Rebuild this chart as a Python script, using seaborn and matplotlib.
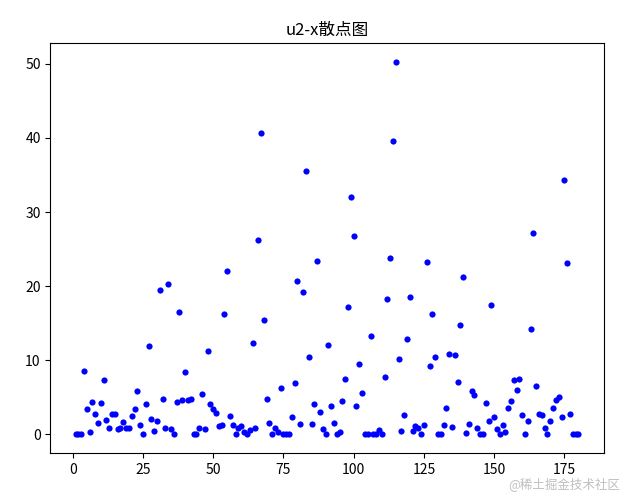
import numpy as np
import pandas as pd
import matplotlib
matplotlib.use('Agg')
import matplotlib.pyplot as plt
import seaborn as sns

plt.rcParams['font.family'] = ['Noto Sans CJK SC', 'DejaVu Sans']
plt.rcParams['axes.unicode_minus'] = False

# u2 values, sample index 1..180
u2_1_40 = [0.0, 0.1, 0.0, 8.6, 3.4, 0.3, 4.4, 2.7, 1.5, 4.3,
           7.4, 2.0, 0.8, 2.7, 2.7, 0.7, 0.8, 1.7, 0.8, 0.8,
           2.5, 3.4, 5.9, 1.3, 0.0, 4.1, 11.9, 2.1, 0.4, 1.8,
           19.5, 4.8, 0.9, 20.3, 0.7, 0.0, 4.4, 16.5, 4.6, 8.4]
u2_41_80 = [4.7, 4.8, 0.1, 0.0, 0.9, 5.5, 0.7, 11.3, 4.1, 3.4,
            2.9, 1.1, 1.3, 16.3, 22.0, 2.5, 1.3, 0.0, 0.9, 1.1,
            0.3, 0.0, 0.6, 12.3, 0.8, 26.2, 40.6, 15.5, 4.8, 1.5,
            0.0, 0.9, 0.3, 6.3, 0.1, 0.1, 0.1, 2.3, 6.9, 20.7]
u2_81_120 = [1.4, 19.2, 35.5, 10.4, 1.4, 4.1, 23.4, 3.0, 0.7, 0.0,
             12.0, 3.8, 1.5, 0.0, 0.3, 4.5, 7.5, 17.2, 32.0, 26.8,
             3.9, 9.5, 5.6, 0.1, 0.0, 13.3, 0.0, 0.0, 0.6, 0.1,
             7.7, 18.3, 23.8, 39.6, 50.3, 10.2, 0.5, 2.6, 12.9, 18.5]
u2_121_160 = [0.5, 1.1, 0.9, 0.1, 1.3, 23.2, 9.2, 16.2, 10.5, 0.0,
              0.0, 1.3, 3.6, 10.8, 1.0, 10.7, 7.1, 14.7, 21.3, 0.2,
              1.4, 5.8, 5.3, 0.9, 0.0, 0.0, 4.3, 1.8, 17.4, 2.3,
              0.7, 0.0, 1.3, 0.3, 3.5, 4.5, 7.3, 6.0, 7.5, 2.6]
u2_161_180 = [0.0, 1.8, 14.2, 27.2, 6.5, 2.8, 2.6, 0.8, 0.0, 1.8,
              3.6, 4.7, 5.0, 2.3, 34.3, 23.1, 2.7, 0.1, 0.1, 0.1]

u2 = u2_1_40 + u2_41_80 + u2_81_120 + u2_121_160 + u2_161_180
x = list(range(1, len(u2) + 1))

df = pd.DataFrame({'x': x, 'u2': u2})

fig, ax = plt.subplots(figsize=(6.3, 4.93), dpi=100)
fig.subplots_adjust(left=0.08, right=0.958, top=0.913, bottom=0.081)

sns.scatterplot(data=df, x='x', y='u2', color='blue', s=20, linewidth=0, ax=ax)
ax.set_title('u2-x散点图', fontsize=12)
ax.set_xlabel('')
ax.set_ylabel('')
ax.set_xticks([0, 25, 50, 75, 100, 125, 150, 175])
ax.set_yticks([0, 10, 20, 30, 40, 50])

# watermark in the corner of the reference, kept just below the tick labels
fig.text(0.985, 0.018, '@稀土掘金技术社区', ha='right', va='center',
         fontsize=9, color='#b8b8b8', alpha=0.9)

fig.savefig('out.png', dpi=100)
